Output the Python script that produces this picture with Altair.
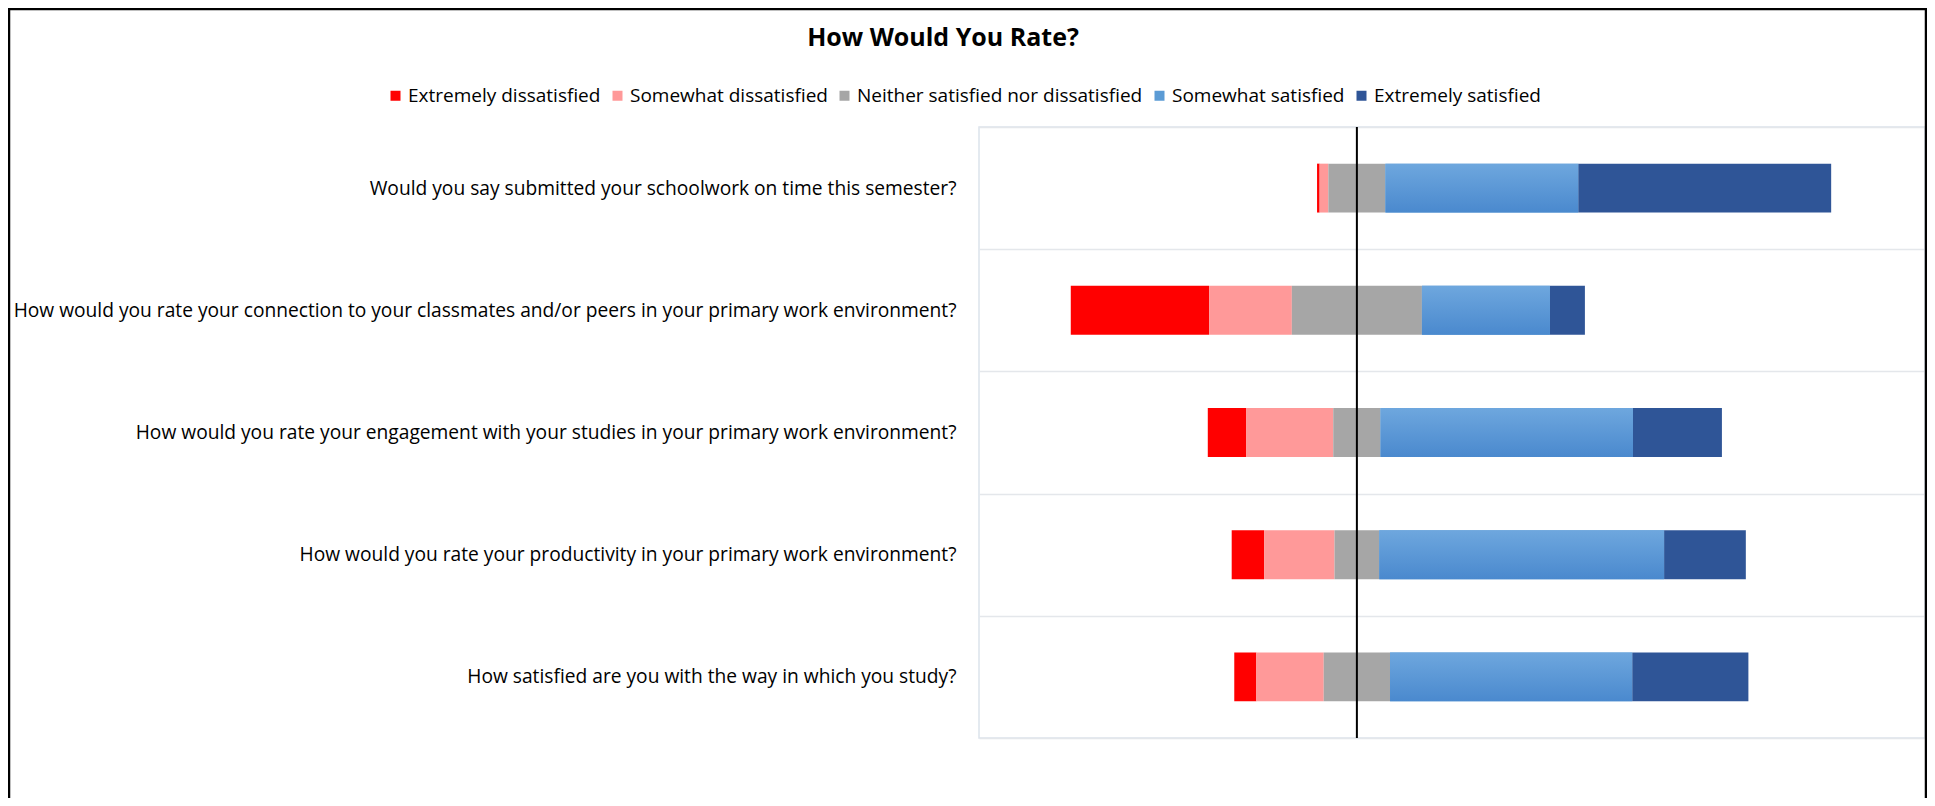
import altair as alt
import pandas as pd

title_text = ["How Would You Rate?"]
questions = [
    "Would you say submitted your schoolwork on time this semester?",
    "How would you rate your connection to your classmates and/or peers in your primary work environment?",
    "How would you rate your engagement with your studies in your primary work environment?",
    "How would you rate your productivity in your primary work environment?",
    "How satisfied are you with the way in which you study?",
]
categories = [
    "Extremely dissatisfied",
    "Somewhat dissatisfied",
    "Neither satisfied nor dissatisfied",
    "Somewhat satisfied",
    "Extremely satisfied",
]
colors = ["#FF0000", "#FF9999", "#A6A6A6", "#5B9BD5", "#2F5597"]

ext_dis = [0.5, 26.9, 7.5, 6.3, 4.3]
some_dis = [1.7, 16.1, 16.9, 13.7, 13.1]
neither = [11.1, 25.3, 9.2, 8.7, 12.9]
some_sat = [37.5, 24.9, 49.1, 55.4, 47.1]
ext_sat = [49.2, 6.8, 17.3, 15.9, 22.6]

rows = []
for i, q in enumerate(questions):
    vals = [ext_dis[i], some_dis[i], neither[i], some_sat[i], ext_sat[i]]
    start = -(vals[0] + vals[1] + vals[2] / 2)
    for k, (c, v) in enumerate(zip(categories, vals)):
        rows.append(dict(question=q, category=c, order=k, start=start, end=start + v))
        start += v
df = pd.DataFrame(rows)

W, H = 946, 611
PL, PT, PR, PB = 971, 119, 2, 60
FONT = "Open Sans"

xscale = alt.Scale(domain=[-73.5, 110.5], nice=False, zero=False)
yscale = alt.Scale(domain=questions, paddingInner=0, paddingOuter=0)

yenc = alt.Y(
    "question:N",
    sort=questions,
    scale=yscale,
    axis=alt.Axis(
        title=None, labelFontSize=19.2, labelFont=FONT, labelColor="#000000",
        labelLimit=1200, labelPadding=23, ticks=False, domain=False,
        grid=True, gridColor="#E4E7EB", gridWidth=1.5, tickBand="extent",
    ),
)

bars = alt.Chart(df).mark_bar(height=alt.RelativeBandSize(0.4)).encode(
    y=yenc,
    x=alt.X("start:Q", scale=xscale, axis=None),
    x2="end:Q",
    color=alt.Color(
        "category:N",
        scale=alt.Scale(domain=categories, range=colors),
        legend=alt.Legend(
            title=None, orient="none", direction="horizontal", legendX=-593, legendY=-41,
            symbolType="square", symbolSize=100, symbolStrokeWidth=0,
            labelFont=FONT, labelFontSize=19, labelColor="#000000", labelOffset=3,
            columnPadding=7, labelLimit=400,
        ),
    ),
    order="order:Q",
)

blue_grad = alt.Gradient(
    gradient="linear", x1=0, y1=0, x2=0, y2=1,
    stops=[alt.GradientStop(color="#6EA7DE", offset=0), alt.GradientStop(color="#4A89CE", offset=1)],
)
bars_grad = alt.Chart(df).transform_filter(
    alt.datum.category == "Somewhat satisfied"
).mark_bar(height=alt.RelativeBandSize(0.4), color=blue_grad).encode(
    y=alt.Y("question:N", sort=questions, scale=yscale),
    x=alt.X("start:Q", scale=xscale, axis=None),
    x2="end:Q",
)

zero = alt.Chart(pd.DataFrame({"x": [0]})).mark_rule(color="#000000", strokeWidth=2).encode(x="x:Q")

title = alt.Chart(pd.DataFrame({"t": title_text})).mark_text(
    font=FONT, fontSize=25, fontWeight="bold", color="#000000", align="center", baseline="alphabetic"
).encode(text="t:N", x=alt.value(-36), y=alt.value(-81))

frame_l = alt.Chart(pd.DataFrame({"a": [0]})).mark_rule(color="#000000", strokeWidth=2.5).encode(
    x=alt.value(-970), y=alt.value(-118), y2=alt.value(H + PB))
frame_r = alt.Chart(pd.DataFrame({"a": [0]})).mark_rule(color="#000000", strokeWidth=2.5).encode(
    x=alt.value(W + 1), y=alt.value(-118), y2=alt.value(H + PB))
frame_t = alt.Chart(pd.DataFrame({"a": [0]})).mark_rule(color="#000000", strokeWidth=2.5).encode(
    x=alt.value(-971), x2=alt.value(W + 2), y=alt.value(-118))

chart = alt.layer(bars, bars_grad, zero, title, frame_l, frame_r, frame_t).properties(
    width=W, height=H,
    padding={"left": PL, "top": PT, "right": PR, "bottom": PB},
    autosize=alt.AutoSizeParams(type="none"),
).configure_view(stroke="#DCE3EC", strokeWidth=1.5)

chart.save("out.html", embed_options={"renderer": "svg", "actions": False})
